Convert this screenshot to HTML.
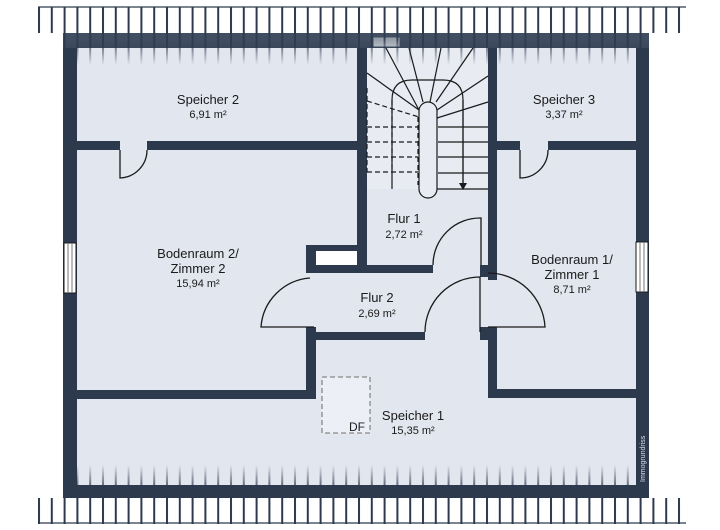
<!DOCTYPE html>
<html><head><meta charset="utf-8"><style>
html,body{margin:0;padding:0;background:#fff}
svg{display:block}
text{font-family:"Liberation Sans",sans-serif;fill:#1a1a1a;text-anchor:middle}
</style></head><body>
<svg width="720" height="530" viewBox="0 0 720 530" xmlns="http://www.w3.org/2000/svg">
<defs>
<linearGradient id="mt" x1="0" y1="7" x2="0" y2="65" gradientUnits="userSpaceOnUse">
<stop offset="0" stop-color="#fff"/><stop offset="0.55" stop-color="#fff"/><stop offset="1" stop-color="#000"/></linearGradient>
<linearGradient id="mb" x1="0" y1="523" x2="0" y2="465" gradientUnits="userSpaceOnUse">
<stop offset="0" stop-color="#fff"/><stop offset="0.55" stop-color="#fff"/><stop offset="1" stop-color="#000"/></linearGradient>
<mask id="maskt"><rect x="0" y="0" width="720" height="70" fill="url(#mt)"/></mask>
<mask id="maskb"><rect x="0" y="460" width="720" height="70" fill="url(#mb)"/></mask>
<pattern id="hp" x="38" y="0" width="12.8" height="530" patternUnits="userSpaceOnUse"><rect x="0" y="0" width="2" height="530" fill="#2d3a4e"/></pattern>
<pattern id="hpl" x="38" y="0" width="12.8" height="530" patternUnits="userSpaceOnUse"><rect x="0" y="0" width="2" height="530" fill="#8a97ab"/></pattern>
</defs>
<!-- outer wall -->
<rect x="63" y="33" width="586" height="465" fill="#2d3a4e"/>
<rect x="77" y="48" width="559" height="437" fill="#e2e6ee"/>
<!-- stair area -->
<rect x="367" y="48" width="121" height="141" fill="#e8ebf1"/>
<!-- interior walls -->
<g fill="#2d3a4e">
<rect x="77" y="141" width="43" height="9"/><rect x="147" y="141" width="211" height="9"/>
<rect x="357" y="48" width="10" height="225"/>
<rect x="488" y="48" width="9" height="232"/>
<rect x="497" y="141" width="23" height="9"/><rect x="548" y="141" width="88" height="9"/>
<rect x="306" y="245" width="51" height="6"/>
<rect x="306" y="245" width="10" height="28"/>
<rect x="306" y="265" width="127" height="8"/>
<rect x="480" y="265" width="17" height="12"/>
<rect x="306" y="327" width="10" height="71"/>
<rect x="306" y="332" width="119" height="8"/>
<rect x="480" y="327" width="17" height="13"/>
<rect x="488" y="327" width="9" height="71"/>
<rect x="77" y="390" width="239" height="9"/>
<rect x="488" y="389" width="148" height="9"/>
</g>
<rect x="316" y="251" width="41" height="14" fill="#fff"/>
<!-- doors -->
<g fill="none" stroke="#1a1a1a" stroke-width="1.3">
<path d="M120 150 V178 A28 28 0 0 0 147 150"/>
<path d="M520 150 V178 A28 28 0 0 0 548 150"/>
<path d="M481 265 V218 A47 47 0 0 0 433 265"/>
<path d="M480 332 V277 A55 55 0 0 0 425 332"/>
<path d="M488 327 H545 A57 57 0 0 0 488 273"/>
<path d="M314 327 H261 A53 53 0 0 1 310 278"/>
</g>
<!-- stairs -->
<g fill="none" stroke="#1a1a1a" stroke-width="1.2">
<rect x="419" y="102" width="18" height="96" rx="9" fill="#e8ebf1"/>
<path d="M392 189 V100 Q392 80 412 80 H443 Q463 80 463 100 V189"/>
<line x1="419" y1="110" x2="386" y2="48"/><line x1="423" y1="102" x2="409" y2="48"/>
<line x1="430" y1="102" x2="441" y2="48"/><line x1="436" y1="102" x2="473" y2="48"/>
<line x1="437" y1="110" x2="488" y2="76"/><line x1="437" y1="118" x2="488" y2="102"/>
<line x1="419" y1="110" x2="367" y2="73"/>
<line x1="438" y1="127" x2="488" y2="127"/><line x1="438" y1="142" x2="488" y2="142"/>
<line x1="438" y1="157" x2="488" y2="157"/><line x1="438" y1="173" x2="488" y2="173"/>
<line x1="437" y1="189" x2="488" y2="189"/>
<line x1="463" y1="100" x2="463" y2="184"/>
</g>
<path d="M459 183 L467 183 L463 190 Z" fill="#1a1a1a"/>
<g fill="none" stroke="#1a1a1a" stroke-width="1.2" stroke-dasharray="5,3">
<line x1="367" y1="101" x2="419" y2="117"/>
<line x1="367" y1="127" x2="418" y2="127"/><line x1="367" y1="142" x2="418" y2="142"/>
<line x1="367" y1="157" x2="418" y2="157"/><line x1="367" y1="172" x2="418" y2="172"/>
<line x1="367" y1="88" x2="367" y2="172"/><line x1="418" y1="117" x2="418" y2="185"/>
<line x1="392" y1="100" x2="392" y2="172"/>
</g>
<rect x="373" y="37" width="27" height="10" fill="#fff" stroke="#2d3a4e"/>
<!-- windows -->
<rect x="64" y="243" width="12" height="50" fill="#fff" stroke="#1a1a1a" stroke-width="1"/>
<line x1="68" y1="243" x2="68" y2="293" stroke="#777"/><line x1="72" y1="243" x2="72" y2="293" stroke="#777"/>
<rect x="636" y="242" width="12" height="50" fill="#fff" stroke="#1a1a1a" stroke-width="1"/>
<line x1="640" y1="242" x2="640" y2="292" stroke="#777"/><line x1="644" y1="242" x2="644" y2="292" stroke="#777"/>
<!-- DF -->
<rect x="322" y="377" width="48" height="56" fill="#eceff5" stroke="#888" stroke-width="1.3" stroke-dasharray="5,3"/>
<text x="357" y="431" font-size="12">DF</text>
<!-- hatching -->
<g mask="url(#maskt)">
<rect x="38" y="7" width="648" height="26" fill="url(#hp)"/>
<rect x="63" y="33" width="586" height="15" fill="#4f5c70" opacity="0.6"/>
<rect x="63" y="33" width="586" height="34" fill="url(#hp)" opacity="0.9"/>
</g>
<line x1="38" y1="7" x2="686" y2="7" stroke="#2d3a4e" stroke-width="1.3"/>
<g mask="url(#maskb)">
<rect x="38" y="498" width="648" height="26" fill="url(#hp)"/>
<rect x="63" y="465" width="586" height="33" fill="url(#hp)" opacity="0.9"/>
</g>
<line x1="38" y1="523" x2="686" y2="523" stroke="#2d3a4e" stroke-width="1.3"/>
<!-- labels -->
<text x="208" y="104" font-size="13">Speicher 2</text><text x="208" y="118" font-size="11">6,91 m²</text>
<text x="564" y="104" font-size="13">Speicher 3</text><text x="564" y="118" font-size="11">3,37 m²</text>
<text x="404" y="223" font-size="13">Flur 1</text><text x="404" y="238" font-size="11">2,72 m²</text>
<text x="377" y="302" font-size="13">Flur 2</text><text x="377" y="317" font-size="11">2,69 m²</text>
<text x="198" y="258" font-size="13">Bodenraum 2/</text><text x="198" y="273" font-size="13">Zimmer 2</text><text x="198" y="287" font-size="11">15,94 m²</text>
<text x="572" y="264" font-size="13">Bodenraum 1/</text><text x="572" y="279" font-size="13">Zimmer 1</text><text x="572" y="293" font-size="11">8,71 m²</text>
<text x="413" y="420" font-size="13">Speicher 1</text><text x="413" y="434" font-size="11">15,35 m²</text>
<text x="0" y="0" font-size="7" style="fill:#dde;text-anchor:start" transform="translate(645,482) rotate(-90)">Immogrundriss</text>
</svg>
</body></html>
